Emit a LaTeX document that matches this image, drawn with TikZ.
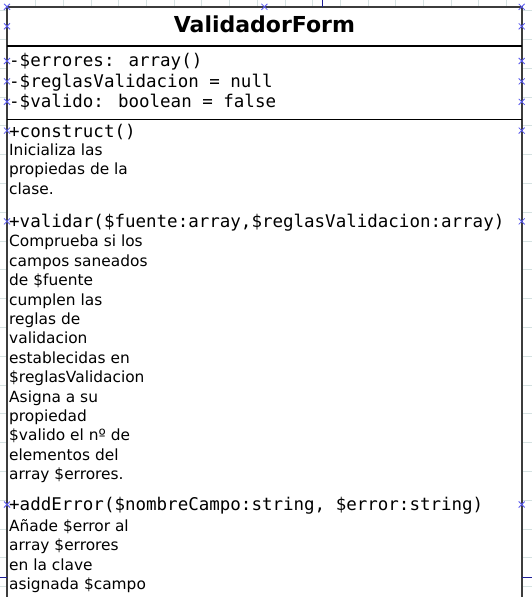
\documentclass[tikz,border=0pt]{standalone}
\usepackage{fontspec}
\setmainfont{DejaVu Sans}
\newfontfamily\monofnt{DejaVu Sans Mono}
\usetikzlibrary{calc}

\definecolor{gridcol}{RGB}{214,226,226}
\definecolor{crosscol}{RGB}{90,90,240}
\definecolor{conncol}{RGB}{30,30,150}
\definecolor{framecol}{RGB}{60,60,60}

\tikzset{
  gridln/.style={gridcol,line width=0.8pt},
  frame/.style={framecol,line width=1.6pt},
  sepline/.style={black,line width=1.4pt},
  attr/.style={anchor=base west,inner sep=0pt,font=\monofnt\fontsize{17.5}{20}\selectfont},
  desc/.style={anchor=base west,inner sep=0pt,font=\fontsize{15.4}{19}\selectfont},
  connpt/.style={crosscol,line width=0.8pt},
  conn/.style={conncol,line width=1.4pt}
}

\begin{document}
\begin{tikzpicture}[x=1pt,y=-1pt]
  \useasboundingbox (0,0) rectangle (532,597);
  \foreach \k in {0,...,18}
    \draw[gridln] ({35.6+27.7*\k},0) -- ++(0,597);
  \foreach \k in {0,...,20}
    \draw[gridln] (0,{10.5+28.8*\k}) -- ++(532,0);

  \coordinate (tl) at (7,6.8);
  \coordinate (tr) at (521.7,6.8);
  \coordinate (bl) at (7,597);
  \coordinate (br) at (521.7,597);
  \fill[white] (tl) rectangle (br);
  \draw[frame] (bl) -- (tl) -- (tr) -- (br);
  \draw[sepline] (7,45.8) -- (521.7,45.8);
  \draw[sepline] (7,119.2) -- (521.7,119.2);

  \node[anchor=base,inner sep=0pt,font=\bfseries\fontsize{22}{26}\selectfont] (title) at (264.4,32.2) {ValidadorForm};

  \node[attr] (errores) at (9,66.5) {-\$errores: array()};
  \node[attr] (reglas) at (9,87) {-\$reglasValidacion = null};
  \node[attr] (valido) at (9,107.5) {-\$valido: boolean = false};

  \node[attr] (construct) at (9,137) {+construct()};
  \foreach \txt [count=\i from 0] in {Inicializa las,propiedas de la,clase.}
    \node[desc] (constructD\i) at (9,{155.3+19.4*\i}) {\txt};

  \node[attr] (validar) at (9,227.5) {+validar(\$fuente:array,\$reglasValidacion:array)};
  \foreach \txt [count=\i from 0] in {Comprueba si los,campos saneados,de \$fuente,cumplen las,reglas de,validacion,establecidas en,\$reglasValidacion,Asigna a su,propiedad,\$valido el nº de,elementos del,array \$errores.}
    \node[desc] (validarD\i) at (9,{246.9+19.4*\i}) {\txt};

  \node[attr] (addError) at (9,510.6) {+addError(\$nombreCampo:string, \$error:string)};
  \foreach \txt [count=\i from 0] in {Añade \$error al,array \$errores,en la clave,asignada \$campo}
    \node[desc] (addErrorD\i) at (9,{531.6+19.3*\i}) {\txt};

  \foreach \y in {6.8,26.3,61,81.4,101.8,130.6,221.4,504.5}{
    \draw[connpt] (7,\y) +(-3,-3) -- +(3,3) +(-3,3) -- +(3,-3);
    \draw[connpt] (521.7,\y) +(-3,-3) -- +(3,3) +(-3,3) -- +(3,-3);
  }
  \draw[connpt] (264.4,6.8) +(-3,-3) -- +(3,3) +(-3,3) -- +(3,-3);

  \coordinate (topOut) at (322.4,0);
  \coordinate (topIn) at (322.4,6.8);
  \coordinate (leftOut) at (0,577.5);
  \coordinate (leftIn) at (7,577.5);
  \coordinate (rightIn) at (521.7,577.5);
  \coordinate (rightOut) at (532,577.5);
  \draw[conn] (topOut) -- (topIn);
  \draw[conn] (leftOut) -- (leftIn);
  \draw[conn] (rightIn) -- (rightOut);
\end{tikzpicture}
\end{document}
